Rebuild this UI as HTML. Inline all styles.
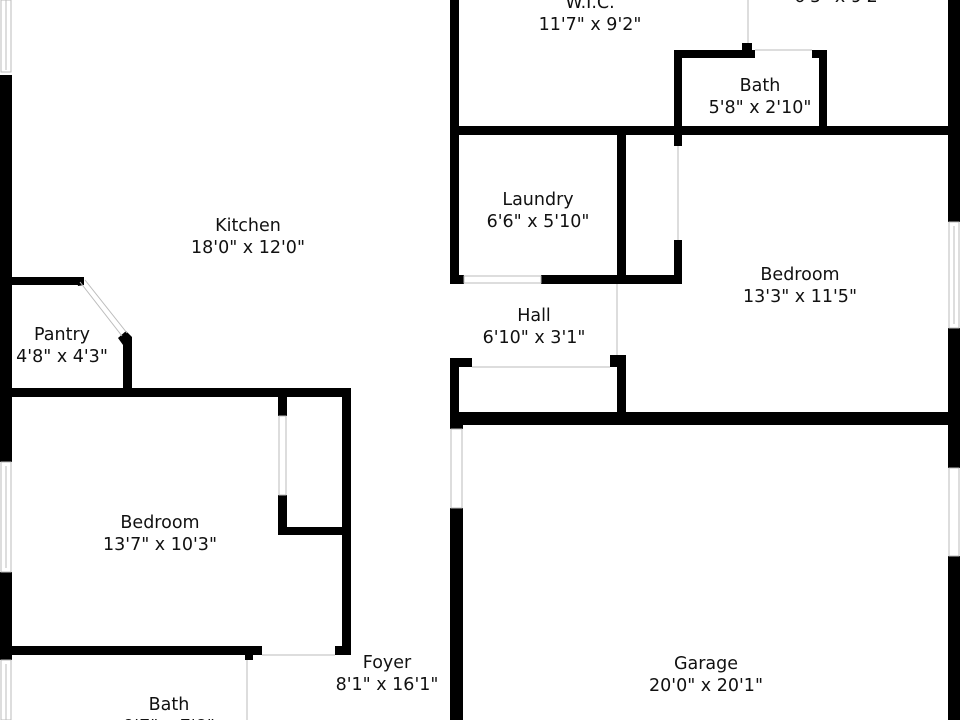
<!DOCTYPE html>
<html><head><meta charset="utf-8"><style>
html,body{margin:0;padding:0;background:#fff;width:960px;height:720px;overflow:hidden}
svg text{font-family:"DejaVu Sans","Liberation Sans",sans-serif;font-size:17.5px;fill:#111;text-anchor:middle}
</style></head><body>
<svg width="960" height="720" viewBox="0 0 960 720" xmlns="http://www.w3.org/2000/svg">
<g fill="#000">
<rect x="0" y="75" width="12" height="387"/>
<rect x="0" y="572" width="12" height="88"/>
<rect x="948" y="0" width="12" height="222"/>
<rect x="948" y="328" width="12" height="140"/>
<rect x="948" y="556" width="12" height="164"/>
<rect x="450" y="0" width="9" height="284"/>
<rect x="450" y="358" width="9" height="70"/>
<rect x="450" y="412" width="13" height="17"/>
<rect x="450" y="508" width="13" height="212"/>
<rect x="450" y="126" width="498" height="9"/>
<rect x="450" y="412" width="498" height="13"/>
<rect x="674" y="50" width="81" height="8"/>
<rect x="742" y="43" width="10" height="8"/>
<rect x="812" y="50" width="15" height="8"/>
<rect x="819" y="50" width="8" height="80"/>
<rect x="674" y="50" width="8" height="96"/>
<rect x="674" y="240" width="8" height="44"/>
<rect x="617" y="130" width="9" height="154"/>
<rect x="450" y="275" width="14" height="9"/>
<rect x="541" y="275" width="141" height="9"/>
<rect x="450" y="358" width="22" height="9"/>
<rect x="610" y="355" width="16" height="12"/>
<rect x="617" y="355" width="9" height="70"/>
<rect x="12" y="277" width="68" height="8"/>
<polygon points="76,277 84,277 84,285 78,286"/>
<polygon points="118,338 126,331 132,337 132,345 123,345"/>
<rect x="123" y="338" width="9" height="58"/>
<rect x="12" y="388" width="339" height="9"/>
<rect x="278" y="397" width="9" height="19"/>
<rect x="278" y="495" width="9" height="40"/>
<rect x="278" y="527" width="73" height="8"/>
<rect x="342" y="388" width="9" height="267"/>
<rect x="12" y="646" width="250" height="9"/>
<rect x="245" y="646" width="8" height="14"/>
<rect x="335" y="646" width="16" height="9"/>
</g>
<g stroke="#bbb" stroke-width="1" fill="none">
<line x1="748" y1="0" x2="748" y2="43"/>
<line x1="755" y1="50" x2="812" y2="50"/>
<line x1="678" y1="146" x2="678" y2="240"/>
<line x1="617" y1="284" x2="617" y2="355"/>
<line x1="472" y1="367" x2="610" y2="367"/>
<rect x="464" y="276" width="77" height="7"/>
<line x1="80" y1="282" x2="122" y2="336"/>
<line x1="85" y1="280" x2="127" y2="333"/>
<rect x="279" y="416" width="7" height="79"/>
<line x1="262" y1="655" x2="335" y2="655"/>
<line x1="247" y1="660" x2="247" y2="720"/>
<rect x="451" y="429" width="11" height="79"/>
<rect x="949" y="468" width="10" height="88"/>
<rect x="949" y="222" width="10" height="106"/>
<line x1="954" y1="226" x2="954" y2="324"/>
<rect x="1" y="0" width="10" height="72"/>
<line x1="6" y1="0" x2="6" y2="70"/>
<rect x="1" y="462" width="10" height="110"/>
<line x1="6" y1="466" x2="6" y2="568"/>
<rect x="1" y="660" width="10" height="60"/>
<line x1="6" y1="664" x2="6" y2="720"/>
</g>
<text x="590" y="8">W.I.C.</text>
<text x="590" y="30">11'7" x 9'2"</text>
<text x="840" y="2">6'5" x 9'2"</text>
<text x="760" y="91">Bath</text>
<text x="760" y="113">5'8" x 2'10"</text>
<text x="538" y="205">Laundry</text>
<text x="538" y="227">6'6" x 5'10"</text>
<text x="800" y="280">Bedroom</text>
<text x="800" y="302">13'3" x 11'5"</text>
<text x="534" y="321">Hall</text>
<text x="534" y="343">6'10" x 3'1"</text>
<text x="248" y="231">Kitchen</text>
<text x="248" y="253">18'0" x 12'0"</text>
<text x="62" y="340">Pantry</text>
<text x="62" y="362">4'8" x 4'3"</text>
<text x="160" y="528">Bedroom</text>
<text x="160" y="550">13'7" x 10'3"</text>
<text x="387" y="668">Foyer</text>
<text x="387" y="690">8'1" x 16'1"</text>
<text x="169" y="710">Bath</text>
<text x="169" y="732">9'7" x 7'8"</text>
<text x="706" y="669">Garage</text>
<text x="706" y="691">20'0" x 20'1"</text>
</svg>
</body></html>
